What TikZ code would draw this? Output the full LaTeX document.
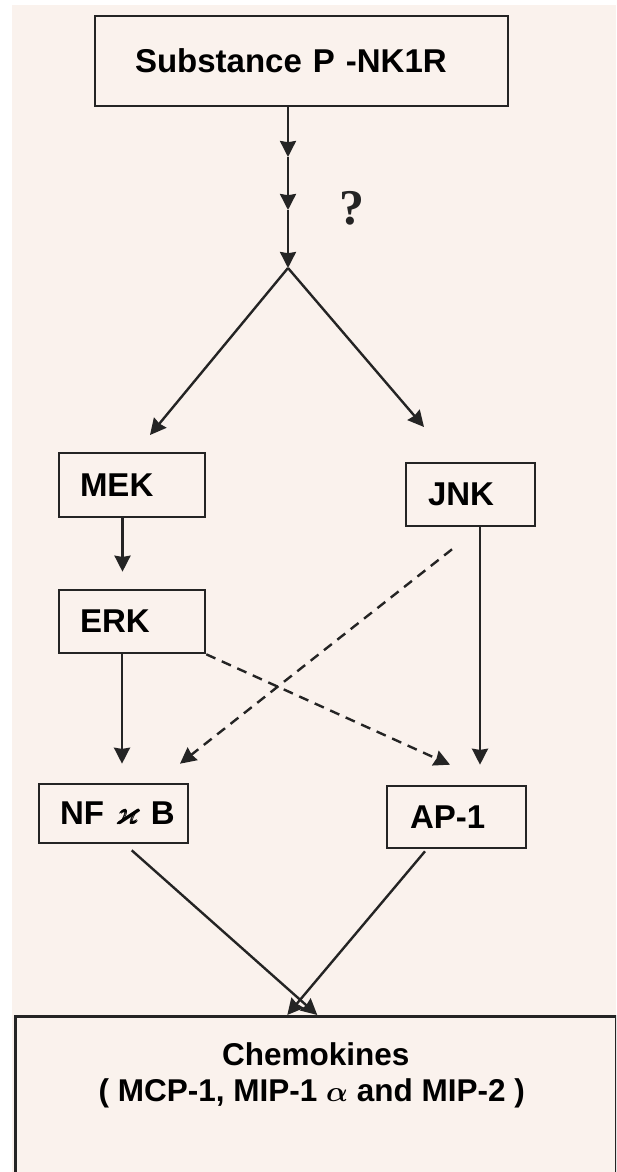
\documentclass[tikz,border=0pt]{standalone}
\usepackage{fontspec}
\usepackage{amssymb}
\usepackage{bm}
\setmainfont{Liberation Sans}
\newfontfamily\qfont{Liberation Serif}
\usetikzlibrary{arrows.meta,calc}
\definecolor{paper}{RGB}{250,242,237}
\definecolor{ink}{RGB}{36,36,36}
\tikzset{
  kbox/.style={draw=ink, line width=1.3pt, inner ysep=0pt, align=left,
    font=\bfseries\fontsize{16.5}{19}\selectfont},
  arr/.style={draw=ink, line width=1.2pt, -{Stealth[length=8pt,width=8pt,inset=0.6pt]}},
  dasharr/.style={arr, dash pattern=on 5pt off 3.5pt},
}

\begin{document}
\begin{tikzpicture}[x=0.5pt,y=-0.5pt]
\path[use as bounding box, clip] (0,0) rectangle (616,1172);
\fill[paper] (12,5) rectangle (616,1172);

% receptor at the top
\node[kbox, text width=166.5pt, inner xsep=20pt, minimum height=45pt] (spr) at (301.5,61) {Substance P -NK1R};

% stem with its three heads
\coordinate (j1) at (288,157);
\coordinate (j2) at (288,210);
\coordinate (fork) at (288,268);
\draw[arr] (spr.south -| fork) -- (j1);
\draw[arr] (j1) -- (j2);
\draw[arr] (j2) -- (fork);
\node[font=\qfont\bfseries\fontsize{25}{25}\selectfont, text=ink] (what) at (352,208) {?};

% kinases
\node[kbox, text width=52pt, inner xsep=10.5pt, minimum height=32pt] (mek) at (132,485) {MEK};
\node[kbox, text width=52pt, inner xsep=10.5pt, minimum height=31.5pt] (erk) at (132,621.5) {ERK};
\node[kbox, text width=42.5pt, inner xsep=11pt, minimum height=31.5pt] (jnk) at (470.5,494.5) {JNK};

% transcription factors
\node[kbox, text width=53.5pt, inner xsep=10.5pt, minimum height=29.5pt] (nfkb) at (113.5,813.5) {\mbox{NF $\bm{\varkappa}$ B}};
\node[kbox, text width=46.5pt, inner xsep=11.5pt, minimum height=31pt] (ap1) at (456.5,817) {AP-1};

% chemokines, runs off the page
\node[draw=ink, line width=1.3pt, anchor=north west, inner sep=0pt,
  font=\bfseries\fontsize{15.75}{18}\selectfont] (chemo) at (14,1015)
  {\parbox[t][110pt][t]{300.5pt}{\centering\vspace*{13pt}Chemokines\hspace*{6pt}\\( MCP-1, MIP-1 $\bm{\alpha}$ and MIP-2 )\hspace*{4pt}}};

% fork
\coordinate (mektip) at (150,435);
\coordinate (jnktip) at (424,427);
\draw[arr] (fork) -- (mektip);
\draw[arr] (fork) -- (jnktip);

\draw[arr, shorten >=8.5pt] ([xshift=-4.75pt]mek.south) -- ([xshift=-4.75pt]erk.north);
\draw[arr, shorten >=9.5pt] ([xshift=-5pt]erk.south) -- ([xshift=-5pt]erk.south |- nfkb.north);
\draw[arr, shorten >=10pt] ([xshift=4.75pt]jnk.south) -- ([xshift=4.75pt]jnk.south |- ap1.north);

% cross talk
\draw[dasharr] (erk.south east) -- ([xshift=-3.25pt,yshift=10pt]ap1.north);
\draw[dasharr] ([xshift=-9.25pt,yshift=-11pt]jnk.south) -- ([xshift=33.25pt,yshift=9.5pt]nfkb.north);

\draw[arr] ([xshift=9.1pt,yshift=-3pt]nfkb.south) -- ([xshift=0.75pt]chemo.north);
\draw[arr] ([xshift=-15.75pt,yshift=-1pt]ap1.south) -- ([xshift=-14.25pt]chemo.north);
\end{tikzpicture}
\end{document}
